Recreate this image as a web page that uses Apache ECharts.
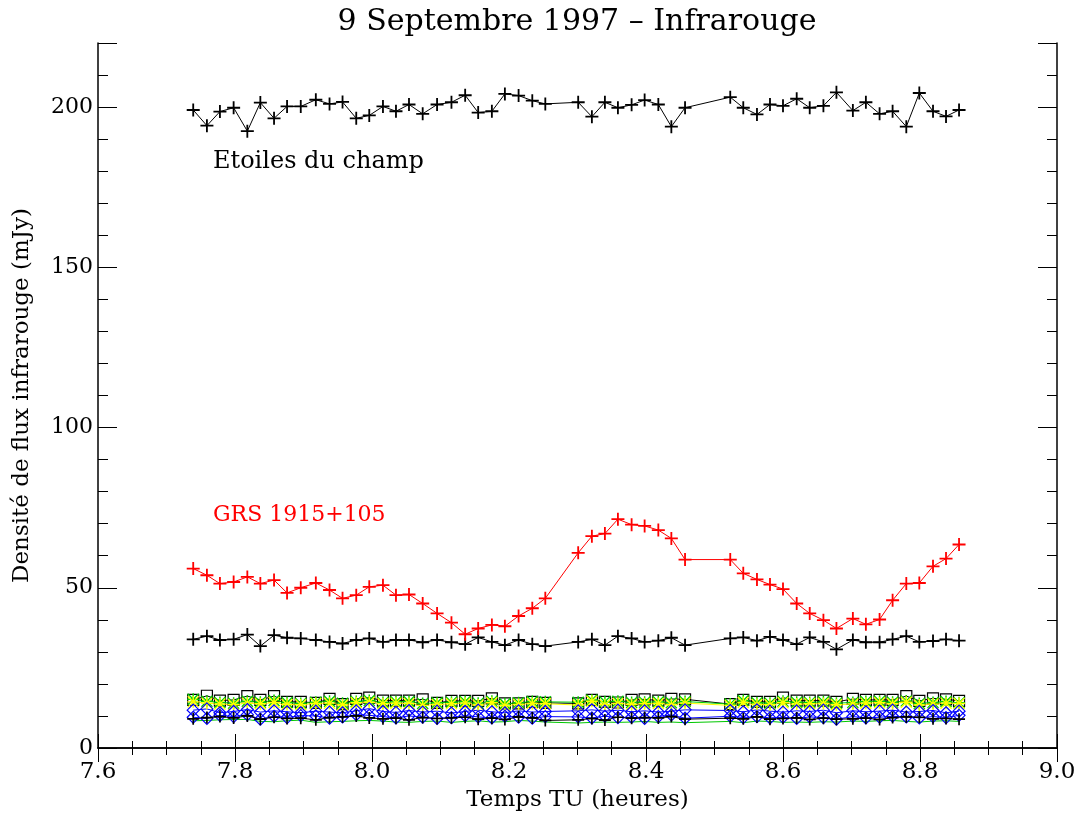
<!DOCTYPE html>
<html>
<head>
<meta charset="utf-8">
<script src="https://cdn.jsdelivr.net/npm/echarts@6/dist/echarts.min.js"></script>
<style>
  html, body { margin: 0; padding: 0; background: #fff; }
  #main { width: 1080px; height: 817px; }
</style>
</head>
<body>
<div id="main"></div>
<script>
// temps (heures TU)
var temps = [7.739, 7.759, 7.778, 7.798, 7.818, 7.837, 7.857, 7.876, 7.896, 7.918,
  7.938, 7.957, 7.977, 7.996, 8.016, 8.035, 8.054, 8.074, 8.095, 8.116,
  8.136, 8.155, 8.175, 8.194, 8.214, 8.234, 8.253, 8.301, 8.321, 8.340,
  8.359, 8.379, 8.398, 8.418, 8.437, 8.457, 8.523, 8.542, 8.562, 8.581,
  8.600, 8.620, 8.639, 8.659, 8.678, 8.702, 8.721, 8.741, 8.760, 8.780,
  8.799, 8.819, 8.838, 8.857];

// somme des etoiles du champ
var champ = [199.1, 194.2, 198.6, 199.8, 192.5, 201.4, 196.5, 200.2, 200.2, 202.3,
  201.0, 201.6, 196.5, 197.4, 200.2, 198.7, 200.8, 197.9, 200.8, 201.5,
  203.7, 198.3, 198.7, 204.1, 203.6, 202.0, 201.0, 201.5, 197.0, 201.5,
  199.8, 200.7, 202.2, 200.8, 193.9, 199.8, 203.1, 199.8, 197.7, 200.8,
  200.4, 202.6, 199.8, 200.4, 204.6, 198.9, 201.5, 197.9, 198.7, 193.9,
  204.4, 198.7, 197.1, 199.1];

var grs = [56.0, 53.9, 51.3, 51.8, 53.4, 51.3, 52.4, 48.4, 50.0, 51.5,
  49.3, 46.7, 47.7, 50.3, 50.8, 47.7, 47.9, 45.1, 42.0, 39.1,
  35.5, 37.3, 38.4, 38.0, 41.2, 43.6, 46.7, 60.9, 66.1, 66.9,
  71.4, 69.7, 69.3, 68.0, 65.4, 58.8, 58.8, 54.5, 52.6, 51.0,
  49.6, 45.1, 42.0, 39.9, 37.3, 40.4, 38.6, 40.1, 46.1, 51.3,
  51.5, 56.7, 59.1, 63.5];

var etoile1 = [33.9, 34.9, 33.7, 33.9, 35.4, 31.8, 35.2, 34.4, 34.2, 33.7,
  33.1, 32.6, 33.7, 34.2, 33.1, 33.7, 33.7, 33.0, 33.7, 33.0,
  32.4, 34.5, 33.1, 32.1, 33.7, 32.4, 31.8, 33.1, 33.9, 32.1,
  34.9, 34.2, 33.1, 33.5, 34.4, 32.1, 34.2, 34.5, 33.5, 34.7,
  33.7, 32.4, 34.5, 33.1, 30.8, 33.7, 33.0, 33.0, 33.9, 34.9,
  33.1, 33.4, 33.9, 33.5];

var etoile2 = [15.0, 16.3, 14.8, 15.0, 16.2, 15.0, 16.2, 14.4, 14.4, 14.1,
  15.3, 13.7, 15.3, 15.7, 14.8, 14.8, 14.8, 15.2, 14.1, 14.7,
  14.7, 14.7, 15.5, 13.9, 13.9, 14.4, 14.1, 13.9, 15.0, 14.4,
  14.2, 15.0, 15.2, 14.8, 15.3, 15.2, 13.7, 15.0, 14.4, 14.4,
  15.7, 14.8, 14.8, 14.8, 14.4, 15.3, 15.0, 15.0, 15.0, 16.2,
  14.7, 15.5, 15.2, 14.7];

var etoile3 = [15.2, 14.6, 14.2, 14.0, 14.6, 14.3, 14.8, 14.2, 13.9, 14.3,
  14.6, 14.0, 14.5, 14.8, 14.2, 14.4, 14.5, 13.9, 14.1, 14.3,
  14.5, 14.0, 14.6, 13.8, 14.1, 14.5, 14.4, 14.3, 15.0, 14.4,
  14.6, 14.2, 14.3, 14.4, 14.1, 14.5, 13.7, 14.8, 14.1, 14.0,
  14.6, 14.3, 14.2, 14.4, 14.0, 14.2, 14.5, 14.6, 14.3, 14.7,
  13.9, 14.2, 14.5, 14.1];

var etoile4 = [14.4, 14.0, 13.7, 13.5, 14.0, 13.8, 14.2, 13.6, 13.5, 13.9,
  14.0, 13.4, 14.1, 14.3, 13.8, 14.0, 13.9, 13.3, 13.6, 13.8,
  14.0, 13.4, 14.1, 13.2, 13.6, 13.9, 13.8, 13.4, 14.6, 13.5,
  13.9, 13.6, 13.8, 13.9, 13.5, 14.0, 13.3, 14.2, 13.6, 13.5,
  14.1, 13.7, 13.8, 13.9, 13.5, 13.7, 14.0, 14.1, 13.8, 14.3,
  13.4, 13.7, 14.0, 13.9];

var etoile5 = [11.8, 12.2, 11.0, 11.4, 12.0, 11.2, 11.6, 11.3, 11.0, 11.5,
  11.2, 11.0, 11.6, 12.3, 11.4, 11.1, 11.7, 11.2, 11.5, 10.9,
  11.4, 11.8, 11.3, 11.0, 11.6, 11.2, 11.4, 11.6, 11.9, 11.5,
  11.8, 11.3, 11.6, 11.2, 11.5, 11.9, 11.7, 11.3, 11.9, 11.5,
  11.2, 11.6, 11.4, 11.8, 11.0, 11.6, 11.3, 11.5, 11.8, 11.2,
  11.4, 11.7, 11.0, 11.5];

var etoile6 = [9.6, 9.2, 10.2, 9.8, 10.4, 9.0, 9.9, 9.5, 10.1, 10.0,
  9.3, 9.7, 10.4, 10.2, 9.8, 9.4, 10.0, 9.6, 9.2, 9.5,
  10.1, 9.7, 9.4, 9.9, 9.6, 9.3, 9.8, 9.7, 9.4, 9.9,
  9.5, 9.6, 9.2, 9.8, 10.3, 9.3, 9.9, 9.5, 9.8, 9.4,
  9.6, 9.2, 9.7, 9.5, 9.0, 9.8, 9.4, 9.6, 9.9, 9.7,
  9.4, 9.8, 9.5, 10.2];

var etoile7 = [9.1, 9.5, 9.8, 9.4, 10.0, 9.0, 9.6, 9.2, 9.3, 8.8,
  9.5, 9.7, 10.0, 9.4, 9.1, 9.3, 8.8, 9.5, 9.2, 9.4,
  9.6, 9.0, 9.3, 8.9, 9.7, 9.4, 8.6, 8.8, 9.2, 8.7,
  9.6, 9.3, 9.5, 9.4, 9.8, 9.0, 9.3, 9.1, 9.7, 9.0,
  9.2, 9.4, 8.9, 9.3, 9.0, 9.1, 9.3, 8.9, 9.5, 9.7,
  9.6, 9.1, 9.2, 9.0];

var etoile8 = [8.5, 8.6, 8.8, 8.9, 8.9, 8.3, 8.2, 8.5, 8.7, 8.0,
  8.2, 8.3, 8.5, 8.6, 8.4, 8.1, 8.0, 8.3, 8.4, 8.0,
  8.3, 8.5, 8.1, 8.2, 8.6, 8.4, 8.1, 7.8, 8.0, 8.1,
  8.0, 8.1, 8.3, 8.0, 8.1, 7.9, 8.3, 7.9, 8.4, 8.3,
  8.0, 8.1, 8.0, 8.2, 8.1, 8.4, 8.3, 8.5, 8.6, 8.3,
  8.1, 8.4, 8.5, 8.3];

var FONT = 'DejaVu Serif';
var PLUS = 'path://M4.3,0H5.7V4.3H10V5.7H5.7V10H4.3V5.7H0V4.3H4.3Z';
var STAR = 'path://M4.4,0H5.6V4.4H10V5.6H5.6V10H4.4V5.6H0V4.4H4.4Z' +
  'M0,0.8L0.8,0L10,9.2L9.2,10Z M9.2,0L10,0.8L0.8,10L0,9.2Z';

function pts(vals) {
  return temps.map(function (t, i) { return [t, vals[i]]; });
}

function serie(vals, color, symbol, size, hollow) {
  return {
    type: 'line',
    data: pts(vals),
    symbol: symbol,
    symbolSize: size,
    showAllSymbol: true,
    lineStyle: { color: color, width: 1 },
    itemStyle: hollow
      ? { color: 'rgba(0,0,0,0)', borderColor: color, borderWidth: 1.2 }
      : { color: color, borderWidth: 0 },
    emphasis: { disabled: true }
  };
}

var chart = echarts.init(document.getElementById('main'), null, { renderer: 'canvas' });

var axisCommon = {
  axisLine: { show: true, lineStyle: { color: '#000', width: 1.5 } },
  splitLine: { show: false }
};

var option = {
  backgroundColor: '#fff',
  animation: false,
  title: {
    text: '9 Septembre 1997 \u2013 Infrarouge',
    left: 572,
    textAlign: 'center',
    top: 2,
    textStyle: { fontFamily: FONT, fontSize: 30, fontWeight: 'normal', color: '#000' }
  },
  grid: { left: 98, right: 23, top: 43, bottom: 69 },
  xAxis: [
    Object.assign({
      type: 'value', min: 7.6, max: 9.0, interval: 0.2, position: 'bottom',
      name: 'Temps TU (heures)', nameLocation: 'middle', nameGap: 40,
      nameTextStyle: { fontFamily: FONT, fontSize: 23, color: '#000' },
      axisTick: { inside: true, length: 14, lineStyle: { color: '#000' } },
      minorTick: { show: true, splitNumber: 4, length: 7, lineStyle: { color: '#000' } },
      axisLabel: {
        margin: 13, fontFamily: FONT, fontSize: 23, color: '#000',
        formatter: function (v) { return v.toFixed(1); }
      }
    }, axisCommon),
    Object.assign({
      type: 'value', min: 7.6, max: 9.0, interval: 0.2, position: 'top',
      axisTick: { inside: true, length: 14, lineStyle: { color: '#000' } },
      minorTick: { show: true, splitNumber: 4, length: 7, lineStyle: { color: '#000' } },
      axisLabel: { show: false }
    }, axisCommon)
  ],
  yAxis: [
    Object.assign({
      type: 'value', min: 0, max: 220, interval: 50, position: 'left',
      name: 'Densit\u00e9 de flux infrarouge (mJy)', nameLocation: 'middle', nameGap: 64,
      nameTextStyle: { fontFamily: FONT, fontSize: 23, color: '#000' },
      axisTick: { inside: true, length: 19, lineStyle: { color: '#000' } },
      minorTick: { show: true, splitNumber: 5, length: 10, lineStyle: { color: '#000' } },
      axisLabel: { margin: 5, fontFamily: FONT, fontSize: 22, color: '#000', showMaxLabel: false }
    }, axisCommon),
    Object.assign({
      type: 'value', min: 0, max: 220, interval: 50, position: 'right',
      axisTick: { inside: true, length: 19, lineStyle: { color: '#000' } },
      minorTick: { show: true, splitNumber: 5, length: 10, lineStyle: { color: '#000' } },
      axisLabel: { show: false }
    }, axisCommon)
  ],
  graphic: [
    { type: 'text', left: 213, top: 150,
      style: { text: 'Etoiles du champ', font: '24px "DejaVu Serif"', fill: '#000' } },
    { type: 'text', left: 213, top: 504,
      style: { text: 'GRS 1915+105', font: '22px "DejaVu Serif"', fill: '#ff0000' } }
  ],
  series: [
    serie(etoile8, '#00c800', 'none', 0, false),
    serie(etoile2, '#000000', 'rect', 11, true),
    serie(etoile3, '#00d000', STAR, 12, false),
    serie(etoile4, '#ffff00', STAR, 12, false),
    serie(etoile5, '#0000ff', 'diamond', 12, true),
    serie(etoile6, '#0000ff', 'diamond', 12, true),
    serie(etoile7, '#000000', PLUS, 12, false),
    serie(etoile1, '#000000', PLUS, 13, false),
    serie(grs, '#ff0000', PLUS, 13, false),
    serie(champ, '#000000', PLUS, 13, false)
  ]
};

chart.setOption(option);
</script>
</body>
</html>
